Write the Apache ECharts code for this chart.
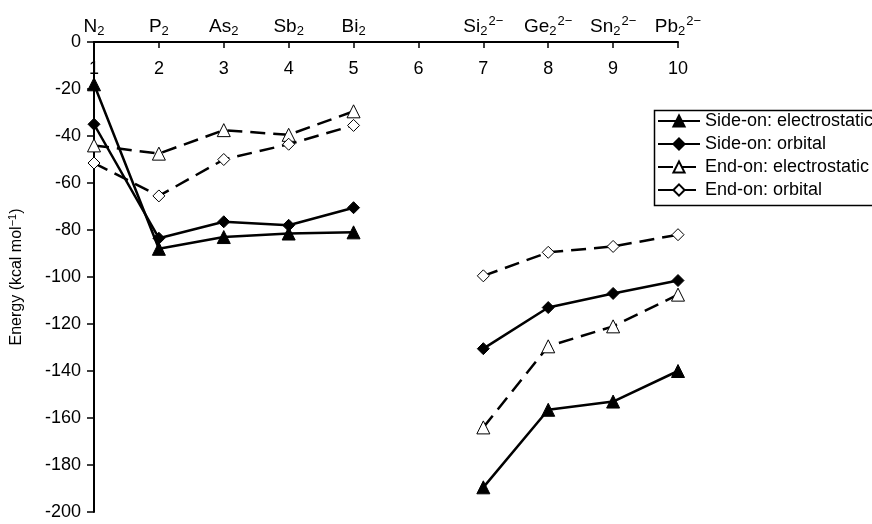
<!DOCTYPE html>
<html>
<head>
<meta charset="utf-8">
<script src="https://cdn.jsdelivr.net/npm/echarts@6/dist/echarts.min.js"></script>
<style>html,body{margin:0;padding:0;background:#fff;}#c{width:872px;height:524px;}</style>
</head>
<body>
<div id="c"></div>
<script>
var xPositions = [1, 2, 3, 4, 5, 6, 7, 8, 9, 10];
var speciesLabels = ['N{sub|2}', 'P{sub|2}', 'As{sub|2}', 'Sb{sub|2}', 'Bi{sub|2}', '', 'Si{sub|2}{sup|2\u2212}', 'Ge{sub|2}{sup|2\u2212}', 'Sn{sub|2}{sup|2\u2212}', 'Pb{sub|2}{sup|2\u2212}'];
var seriesNames = ['Side-on: electrostatic', 'Side-on: orbital', 'End-on: electrostatic', 'End-on: orbital'];
var sideOnElectrostatic = [-18, -88, -83, -81.5, -81, null, -189.5, -156.5, -153, -140];
var sideOnOrbital = [-35, -83.5, -76.5, -78, -70.5, null, -130.5, -113, -107, -101.5];
var endOnElectrostatic = [-44, -47.5, -37.5, -39.5, -29.5, null, -164, -129.5, -121, -107.5];
var endOnOrbital = [-51.5, -65.5, -50, -43.5, -35.5, null, -99.5, -89.5, -87, -82];

function pairs(vals) {
  return xPositions.map(function (x, i) { return [x, vals[i] === null ? '-' : vals[i]]; });
}
var font = 'Liberation Sans, Arial, sans-serif';
var chart = echarts.init(document.getElementById('c'));
function mk(name, vals, symbol, size, filled, dashed) {
  return {
    name: name, type: 'line', data: pairs(vals), xAxisIndex: 0, yAxisIndex: 0,
    symbol: symbol, symbolSize: size, showAllSymbol: true, connectNulls: false,
    lineStyle: { color: '#000', width: 2.5, type: dashed ? [15, 8] : 'solid' },
    itemStyle: { color: filled ? '#000' : '#fff', borderColor: '#000', borderWidth: 1 },
    emphasis: { disabled: true }, animation: false, z: filled ? 3 : 2
  };
}
chart.setOption({
  animation: false,
  backgroundColor: '#fff',
  grid: { left: 94, right: 194, top: 42, bottom: 12, outerBoundsMode: 'none', containLabel: false },
  legend: {
    orient: 'vertical', left: 652, top: 108,
    data: seriesNames,
    backgroundColor: '#fff',
    borderWidth: 0,
    padding: [4, 10, 4, 5], itemGap: 5, itemWidth: 42, itemHeight: 14,
    textStyle: { fontFamily: font, fontSize: 18, color: '#000' }
  },
  graphic: [{
    type: 'rect', left: 652, top: 108, z: 100, silent: true,
    shape: { width: 320, height: 95 },
    style: { fill: 'none', stroke: '#000', lineWidth: 1.5 }
  }],
  xAxis: [{
    type: 'value', position: 'top', min: 1, max: 10, interval: 1,
    axisLine: { onZero: false, lineStyle: { color: '#000', width: 2 } },
    axisTick: { inside: true, length: 6, lineStyle: { color: '#000', width: 1.5 } },
    axisLabel: { inside: true, margin: 18, fontFamily: font, fontSize: 18, color: '#000' },
    splitLine: { show: false }
  }, {
    type: 'value', position: 'top', min: 1, max: 10, interval: 1,
    axisLine: { show: false }, axisTick: { show: false }, splitLine: { show: false },
    axisLabel: {
      margin: 4, color: '#000', fontFamily: font, fontSize: 19,
      formatter: function (v) { var i = xPositions.indexOf(v); return i >= 0 ? speciesLabels[i] : ''; },
      rich: {
        sub: { fontFamily: font, fontSize: 13, padding: [9, 0, 0, 0], color: '#000' },
        sup: { fontFamily: font, fontSize: 13, padding: [0, 0, 10, 1], color: '#000' }
      }
    }
  }],
  yAxis: {
    type: 'value', min: -200, max: 0, interval: 20, position: 'left',
    name: '{a|Energy (kcal mol}{s|\u22121}{a|)}', nameLocation: 'middle', nameGap: 68, nameRotate: 90,
    nameTextStyle: {
      fontFamily: font, fontSize: 16, color: '#000',
      rich: { a: { fontFamily: font, fontSize: 16, color: '#000' }, s: { fontFamily: font, fontSize: 11, color: '#000', padding: [0, 0, 8, 0] } }
    },
    axisLine: { onZero: false, lineStyle: { color: '#000', width: 2 } },
    axisTick: { length: 7, lineStyle: { color: '#000', width: 1.5 } },
    axisLabel: { margin: 13, fontFamily: font, fontSize: 18, color: '#000' },
    splitLine: { show: false }
  },
  series: [
    mk(seriesNames[0], sideOnElectrostatic, 'triangle', 13, true, false),
    mk(seriesNames[1], sideOnOrbital, 'diamond', 12, true, false),
    mk(seriesNames[2], endOnElectrostatic, 'triangle', 13, false, true),
    mk(seriesNames[3], endOnOrbital, 'diamond', 12, false, true)
  ]
});
</script>
</body>
</html>
